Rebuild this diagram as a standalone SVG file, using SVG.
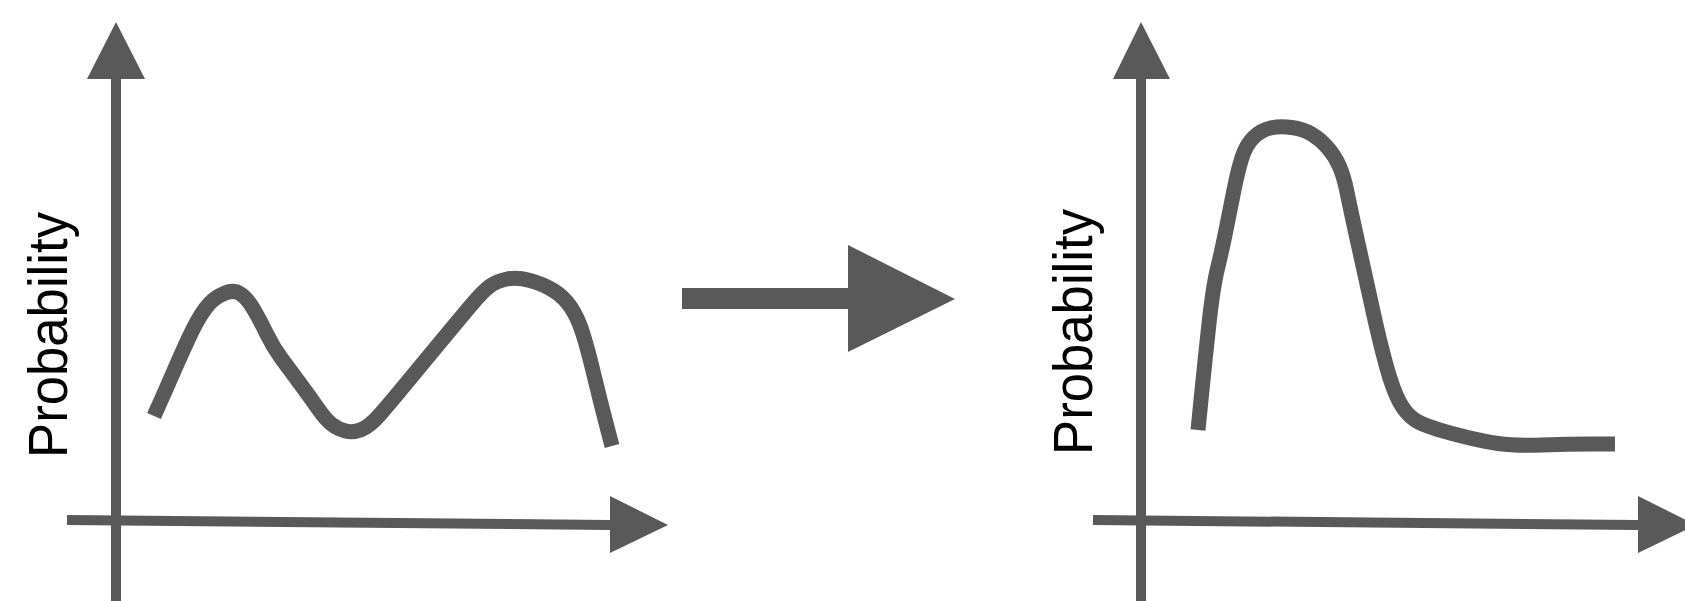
<svg xmlns="http://www.w3.org/2000/svg" width="1685" height="601" viewBox="0 0 1685 601">
<style>
.axis{stroke:#595959;stroke-width:10;fill:none}
.head{fill:#595959;stroke:none}
.curve{stroke:#595959;stroke-width:15;fill:none;stroke-linejoin:round;stroke-linecap:butt}
.lbl{font-family:"Liberation Sans",Arial,sans-serif;font-size:56px;fill:#000}
</style>
<rect width="1685" height="601" fill="#ffffff"/>
<g id="chart-left">
<line class="axis" x1="116" y1="79" x2="116" y2="601"/>
<polygon class="head" points="116,22 87,79 145,79"/>
<line class="axis" x1="67" y1="520" x2="611" y2="525"/>
<polygon class="head" points="610,496 610,553 668,525"/>
<path class="curve" d="M154,416 L160.5,401.5 Q167,387 173.5,372 Q180,357 188.5,338.5 Q197,320 205,309 Q213,298 223,294 Q233,289 240,293.5 Q247,298 253.5,309 Q260,320 266.5,333.5 Q273,347 281.5,358.5 Q290,370 300,383.5 Q310,397 318,408.5 Q326,420 332,424.5 Q338,429 345.5,431 Q353,433 361.5,429.5 Q370,426 380,414.5 Q390,403 406.5,383 Q423,363 440,342.5 Q457,322 470,306.5 Q483,291 490,286 Q497,281 507,279 Q517,277 530,280.5 Q543,284 553.5,290.5 Q564,297 571,307.5 Q578,318 583,334 Q588,350 594,375 Q600,400 606,423 L612,446"/>
<text class="lbl" transform="translate(67,458) rotate(-90)" textLength="246" lengthAdjust="spacingAndGlyphs">Probability</text>
</g>
<g id="connectors">
<g id="arrow-mid">
<rect class="head" x="682" y="288" width="167" height="21"/>
<polygon class="head" points="848,245 848,352 955,299"/>
</g>
</g>
<g id="chart-right">
<line class="axis" x1="1141" y1="79" x2="1141" y2="601"/>
<polygon class="head" points="1141,22 1113,79 1170,79"/>
<line class="axis" x1="1093" y1="520" x2="1639" y2="525"/>
<polygon class="head" points="1638,496 1638,553 1696,525"/>
<path class="curve" d="M1198,430 L1201.5,395 Q1205,360 1209,323.5 Q1213,287 1217.5,268.5 Q1222,250 1226,230 Q1230,210 1234,190 Q1238,170 1242,157.5 Q1246,145 1253.5,137.5 Q1261,130 1270.5,128 Q1280,126 1291.5,127.5 Q1303,129 1311.5,134 Q1320,139 1327.5,147.5 Q1335,156 1339.5,166.5 Q1344,177 1347,192 Q1350,207 1358.5,245.5 Q1367,284 1373.5,313.5 Q1380,343 1386.5,366.5 Q1393,390 1399.5,402 Q1406,414 1415,420 Q1424,426 1452,433.5 Q1480,441 1498,443.5 Q1516,446 1542,445 Q1568,444 1591.5,444 L1615,444"/>
<text class="lbl" transform="translate(1092,455) rotate(-90)" textLength="246" lengthAdjust="spacingAndGlyphs">Probability</text>
</g>
</svg>
